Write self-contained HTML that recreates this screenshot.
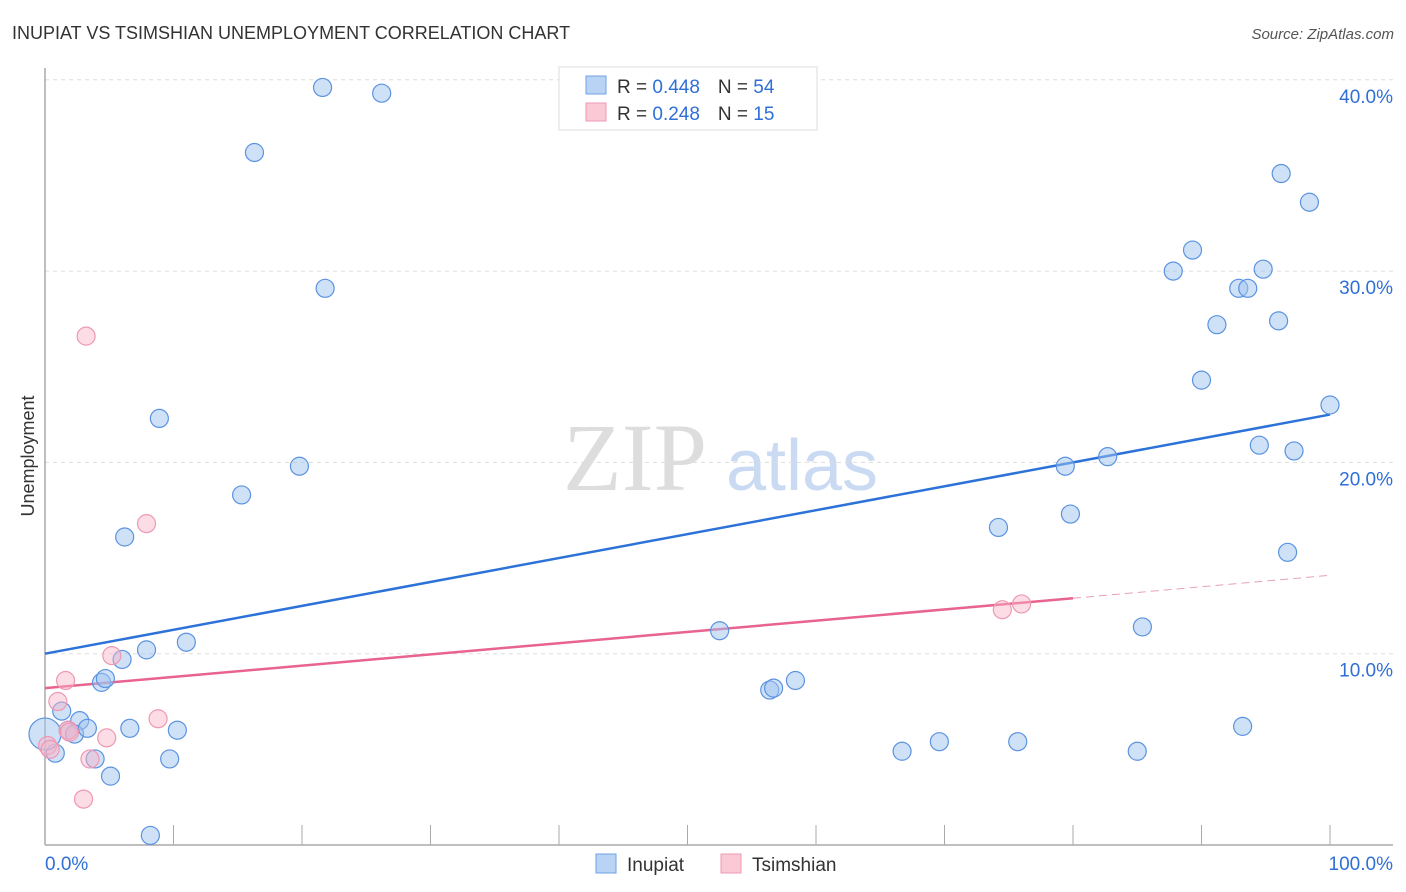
<!DOCTYPE html>
<html><head><meta charset="utf-8"><style>
body{margin:0;background:#fff;font-family:"Liberation Sans",sans-serif;}
svg{display:block}
</style></head><body>
<svg id="chart" width="1406" height="892">
<text x="12" y="39" font-size="18" fill="#333">INUPIAT VS TSIMSHIAN UNEMPLOYMENT CORRELATION CHART</text>
<text x="1394" y="39" font-size="15" fill="#555" font-style="italic" text-anchor="end">Source: ZipAtlas.com</text>
<text transform="translate(34,456) rotate(-90)" font-size="18" fill="#333" text-anchor="middle">Unemployment</text>
<g>
<text x="635" y="490" font-size="96" fill="#ddd" font-family="Liberation Serif,serif" text-anchor="middle">ZIP</text>
<text x="802" y="490" font-size="72" fill="#c9daf2" text-anchor="middle">atlas</text>
</g>
<g id="grid"></g><g id="axes"></g><g id="trend"></g><g id="pts"></g>
<g>
<rect x="559" y="67" width="258" height="63" fill="#fff" stroke="#ddd"/>
<rect x="586" y="76" width="20" height="18" fill="#b9d3f5" stroke="#6fa0e6"/>
<rect x="586" y="103" width="20" height="18" fill="#fbc8d6" stroke="#ee98b2"/>
<text x="617" y="93" font-size="19" fill="#333">R = <tspan fill="#2f6fd6">0.448</tspan><tspan dx="18">N = </tspan><tspan fill="#2f6fd6">54</tspan></text>
<text x="617" y="120" font-size="19" fill="#333">R = <tspan fill="#2f6fd6">0.248</tspan><tspan dx="18">N = </tspan><tspan fill="#2f6fd6"> 15</tspan></text>
</g>
<g>
<rect x="596" y="854" width="20" height="19" fill="#b9d3f5" stroke="#6fa0e6"/>
<text x="627" y="871" font-size="19" fill="#333">Inupiat</text>
<rect x="721" y="854" width="20" height="19" fill="#fbc8d6" stroke="#ee98b2"/>
<text x="752" y="871" font-size="19" fill="#333">Tsimshian</text>
</g>
</svg>
<script>
const yTicks=[10,20,30,40];
const yTickLabels=["10.0%","20.0%","30.0%","40.0%"];
const xTickVals=[0,10,20,30,40,50,60,70,80,90,100];
const inupiatX=[21.6,26.2,16.3,21.8,8.9,19.8,15.3,6.2,7.9,11.0,6.0,4.4,4.7,1.3,2.7,1.8,2.3,3.3,6.6,10.3,3.9,9.7,5.1,8.2,0.8,0,52.5,56.4,56.7,58.4,66.7,69.6,75.7,79.4,79.8,74.2,82.7,85.4,85.0,93.2,87.8,89.3,90.0,91.2,92.9,93.6,94.8,94.5,96.2,96.0,97.2,98.4,96.7,100];
const inupiatY=[39.6,39.3,36.2,29.1,22.3,19.8,18.3,16.1,10.2,10.6,9.7,8.5,8.7,7.0,6.5,6.0,5.8,6.1,6.1,6.0,4.5,4.5,3.6,0.5,4.8,5.8,11.2,8.1,8.2,8.6,4.9,5.4,5.4,19.8,17.3,16.6,20.3,11.4,4.9,6.2,30.0,31.1,24.3,27.2,29.1,29.1,30.1,20.9,35.1,27.4,20.6,33.6,15.3,23.0];
const tsimX=[3.2,7.9,1.6,5.2,1.0,8.8,4.8,3.5,3.0,1.8,0.2,74.5,76.0,1.9,0.4];
const tsimY=[26.6,16.8,8.6,9.9,7.5,6.6,5.6,4.5,2.4,6.0,5.2,12.3,12.6,5.9,5.0];
const blueTrend=[10.0,22.5];
const pinkTrend=[8.2,12.9,14.1];
const pinkSolidEnd=80;
const NS="http://www.w3.org/2000/svg";
const X=v=>45+v*12.85, Y=v=>845-v*19.13;
function mk(t,a,p){const e=document.createElementNS(NS,t);for(const k in a)e.setAttribute(k,a[k]);p.appendChild(e);return e;}
const grid=document.getElementById('grid'),axes=document.getElementById('axes'),tr=document.getElementById('trend'),pts=document.getElementById('pts');
yTicks.forEach((t,i)=>{
 const l=mk('line',{x1:45,x2:1393,y1:Y(t),y2:Y(t),stroke:'#ddd','stroke-dasharray':'4,4'},grid);
 
 
 const tx=mk('text',{x:1393,y:Y(t)+23,'font-size':19,fill:'#2f6fd6','text-anchor':'end'},grid);
 tx.textContent=yTickLabels[i];
 
 
});
mk('line',{x1:1393,x2:1393,y1:Y(40),y2:Y(40),stroke:'#ddd'},grid);
const ya=mk('line',{x1:45,x2:45,y1:68,y2:845,stroke:'#aaa','stroke-width':1.5},axes);


const xa=mk('line',{x1:45,x2:1393,y1:845,y2:845,stroke:'#aaa','stroke-width':1.5},axes);


xTickVals.forEach(v=>{const t=mk('line',{x1:X(v),x2:X(v),y1:825,y2:845,stroke:'#aaa'},axes);
 
 });
const x0=mk('text',{x:45,y:870,'font-size':19,fill:'#2f6fd6'},axes);x0.textContent='0.0%';


const x1=mk('text',{x:1393,y:870,'font-size':19,fill:'#2f6fd6','text-anchor':'end'},axes);x1.textContent='100.0%';


// points
function dot(x,y,fill,stroke,name,r){const c=mk('circle',{cx:X(x),cy:Y(y),r:r||9,fill:fill,stroke:stroke,'stroke-width':1.2},pts);
 
 }
inupiatX.forEach((x,i)=>dot(x,inupiatY[i],'rgba(160,196,240,0.5)','#5b93e0','inupiat-point',(x===0?16:9)));
tsimX.forEach((x,i)=>dot(x,tsimY[i],'rgba(249,180,200,0.45)','#ee98b2','tsimshian-point'));
const bl=mk('line',{x1:X(0),y1:Y(blueTrend[0]),x2:X(100),y2:Y(blueTrend[1]),stroke:'#2c72d8','stroke-width':2.5},tr);


const pl=mk('line',{x1:X(0),y1:Y(pinkTrend[0]),x2:X(pinkSolidEnd),y2:Y(pinkTrend[1]),stroke:'#e8638f','stroke-width':2.5},tr);


const pd=mk('line',{x1:X(pinkSolidEnd),y1:Y(pinkTrend[1]),x2:X(100),y2:Y(pinkTrend[2]),stroke:'#e8a0b8','stroke-width':1,'stroke-dasharray':'8,5'},tr);


</script>
</body></html>
